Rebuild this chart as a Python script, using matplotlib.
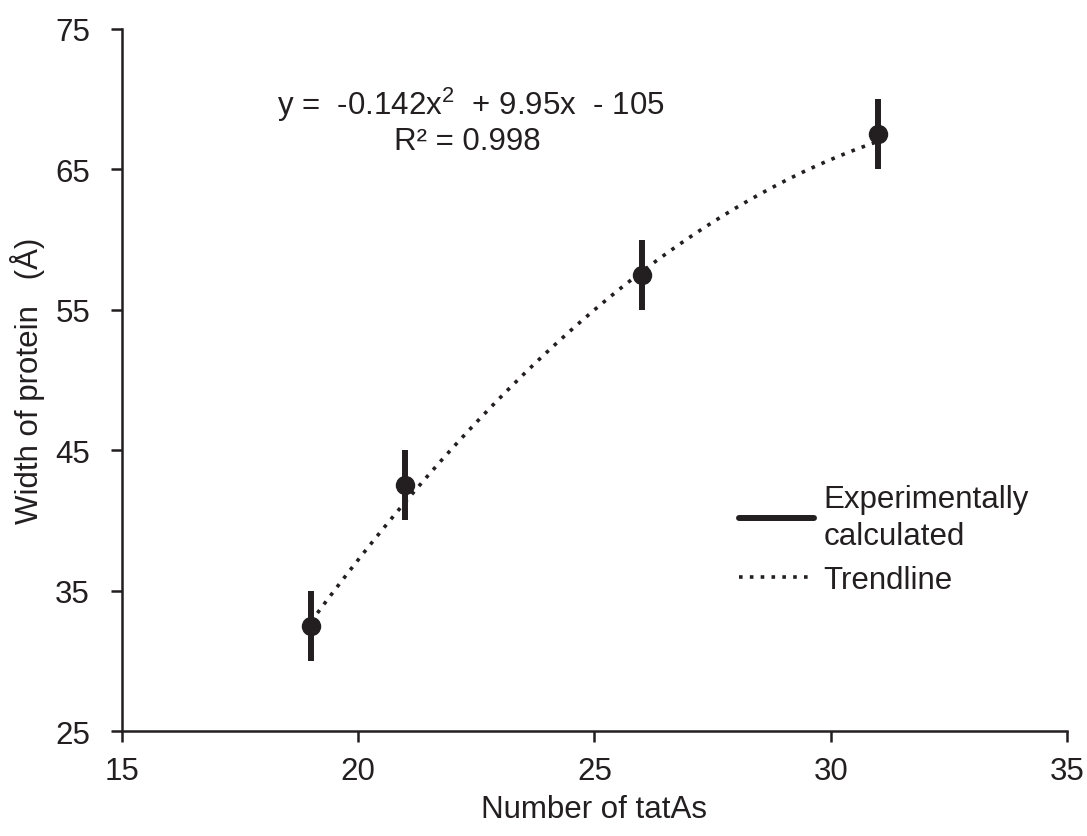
import numpy as np
import matplotlib
matplotlib.use("Agg")
import matplotlib.pyplot as plt
from matplotlib.lines import Line2D

plt.rcParams["font.family"] = ["Liberation Sans", "DejaVu Sans"]
plt.rcParams["mathtext.fontset"] = "custom"
plt.rcParams["mathtext.rm"] = "Liberation Sans"
plt.rcParams["mathtext.it"] = "Liberation Sans"

# measured widths per tatA count
n_tata = [19, 21, 26, 31]
width = [32.5, 42.5, 57.5, 67.5]
width_err = [2.5, 2.5, 2.5, 2.5]

# quadratic trendline coefficients
coef = [-0.142, 9.95, -105]
r2 = 0.998

x_ticks = [15, 20, 25, 30, 35]
y_ticks = [25, 35, 45, 55, 65, 75]

COL = "#231f20"
FS = 22.5

fig = plt.figure(figsize=(10.87, 8.37), dpi=100)
ax = fig.add_axes([0.1122, 0.1254, 0.8694, 0.8388])

xs = np.linspace(min(n_tata), max(n_tata), 200)
ax.plot(xs, np.polyval(coef, xs), linestyle=(0, (1, 2.0)), color=COL, lw=2.6)

ax.errorbar(n_tata, width, yerr=width_err, fmt="o", color=COL, ms=13,
            elinewidth=4.3, capsize=0, zorder=3)

ax.set_xlim(x_ticks[0], x_ticks[-1])
ax.set_ylim(y_ticks[0], y_ticks[-1])
ax.set_xticks(x_ticks)
ax.set_yticks(y_ticks)
for s in ["top", "right"]:
    ax.spines[s].set_visible(False)
for s in ["left", "bottom"]:
    ax.spines[s].set_linewidth(1.8)
    ax.spines[s].set_color(COL)
ax.tick_params(labelsize=FS, length=8, width=1.8, color=COL, labelcolor=COL)
ax.tick_params(axis="x", pad=10)
ax.tick_params(axis="y", pad=15)

ax.set_xlabel("Number of tatAs", fontsize=FS, color=COL, labelpad=6)
ax.set_ylabel("Width of protein   (Å)", fontsize=FS, color=COL, labelpad=7)

ax.text(22.38, 69.66, "y =  -%.3fx$^{2}$  + %.2fx  - %d" % (-coef[0], coef[1], -coef[2]),
        fontsize=FS, color=COL, ha="center", va="center")
ax.text(22.3, 67.0, "R² = %.3f" % r2, fontsize=FS, color=COL, ha="center", va="center")

handles = [
    Line2D([], [], color=COL, lw=4.3, solid_capstyle="round"),
    Line2D([], [], color=COL, lw=2.6, linestyle=(0, (1, 2.0))),
]
leg = ax.legend(handles, ["Experimentally\ncalculated", "Trendline"], frameon=False,
                fontsize=FS, loc="upper left", bbox_to_anchor=(0.640, 0.37),
                handlelength=2.4, handletextpad=0.3, labelspacing=0.45,
                labelcolor=COL, borderaxespad=0)
for t in leg.get_texts():
    t.set_linespacing(1.3)

fig.savefig("out.png", dpi=100)
